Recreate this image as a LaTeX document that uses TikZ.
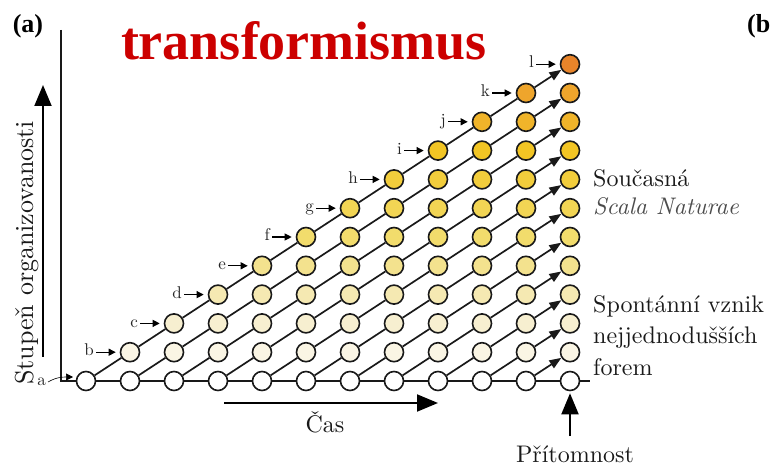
\documentclass[tikz,border=0pt]{standalone}
\usepackage{fontspec}
\setmainfont{lmroman10}[Extension=.otf,UprightFont=*-regular,ItalicFont=*-italic,BoldFont=*-bold]
\newfontfamily\titlefont{Liberation Serif}
\usetikzlibrary{arrows.meta,calc}
\definecolor{row0}{HTML}{FFFFFF}
\definecolor{row1}{HTML}{FAF5E4}
\definecolor{row2}{HTML}{F7EFD0}
\definecolor{row3}{HTML}{F5E9B2}
\definecolor{row4}{HTML}{F3E28E}
\definecolor{row5}{HTML}{F2DC6C}
\definecolor{row6}{HTML}{F2D554}
\definecolor{row7}{HTML}{F2CD3C}
\definecolor{row8}{HTML}{F2C524}
\definecolor{row9}{HTML}{F0B42A}
\definecolor{row10}{HTML}{EEA52C}
\definecolor{row11}{HTML}{E8842A}
\definecolor{titlered}{HTML}{CC0000}

\begin{document}
\begin{tikzpicture}[x=1pt,y=1pt,
  dot/.style={circle,draw=black!90,line width=1.6pt,minimum size=19pt,inner sep=0pt},
  link/.style={line width=1.7pt,draw=black!90},
  tip/.style={-{Triangle[length=12pt,width=9pt]}},
  ltr/.style={font=\fontsize{17}{17}\selectfont,inner sep=2pt,text height=7.5pt,text depth=0pt,text=black!85},
  ltrarrow/.style={-{Triangle[length=7pt,width=7pt]},line width=1.1pt,shorten >=4pt},
  bigarrow/.style={-{Triangle[length=21pt,width=17pt]},line width=1.9pt},
  txt/.style={font=\fontsize{24}{30}\selectfont,anchor=base west,inner sep=0pt,text=black!90},
  head/.style={font=\titlefont\bfseries\fontsize{26}{26}\selectfont,inner sep=0pt}]

\useasboundingbox (0,0) rectangle (774,469);

% stages: column = time step, row = level of organisation
\foreach \i in {0,...,11}
  \foreach \j in {0,...,\i}
    \node[dot,fill=row\j] (c-\i-\j) at ({86+44*\i},{88+28.8*\j}) {};

% lineages
\foreach \i in {0,...,10}{
  \pgfmathtruncatemacro\ni{\i+1}
  \foreach \j in {0,...,\i}{
    \pgfmathtruncatemacro\nj{\j+1}
    \ifnum\i=10
      \draw[link,tip] (c-\i-\j) -- (c-\ni-\nj);
    \else
      \draw[link] (c-\i-\j) -- (c-\ni-\nj);
    \fi
  }
  \draw[link] (c-\i-0) -- (c-\ni-0);
}

% axes
\coordinate (ytop) at (61,439);
\coordinate (corner) at (61,88);
\coordinate (xend) at (590,88);
\draw[link] (ytop) -- (corner) -- (c-0-0);
\draw[link] (c-11-0) -- (xend);

% first appearance of each form
\node[ltr,anchor=east] (t-0) at (48,87) {a};
\coordinate (atip) at (73,92);
\draw[ltrarrow,line width=0.6pt,shorten >=0pt] (t-0.east) to[out=30,in=180] (atip);
\foreach \i/\lbl in {1/b,2/c,3/d,4/e,5/f,6/g,7/h,8/i,9/j,10/k,11/l}{
  \node[ltr,anchor=east] (t-\i) at ($(c-\i-\i)+(-34,0)$) {\lbl};
  \draw[ltrarrow] (t-\i.east) -- (c-\i-\i.west);
}

% axis arrows
\coordinate (sb) at (43,112);
\coordinate (st) at (43,384);
\draw[bigarrow] (sb) -- (st);
\node[font=\fontsize{26}{26}\selectfont,rotate=90,anchor=base west,inner sep=0pt,text=black!90] (ylab) at (33,84) {Stupeň organizovanosti};
\coordinate (tb) at (224,66);
\coordinate (te) at (438,66);
\draw[bigarrow] (tb) -- (te);
\node[txt,anchor=base] (xlab) at (325,37) {Čas};
\coordinate (pb) at (570,33);
\draw[bigarrow,shorten >=2pt] (pb) -- (c-11-0);
\node[txt,anchor=base] (now) at (575,7) {Přítomnost};

% right-hand notes
\node[txt] (s1) at (593,282) {Současná};
\node[txt,font=\itshape\fontsize{24}{30}\selectfont,text=black!70] (s2) at (593,254) {Scala Naturae};
\node[txt] (g1) at (593,156) {Spontánní vznik};
\node[txt] (g2) at (593,125) {nejjednodušších};
\node[txt] (g3) at (593,94) {forem};

% headings
\node[head,anchor=base] (pa) at (28,436) {(a)};
\node[head,anchor=base west] (pb2) at (747,436) {(b};
\node[font=\titlefont\bfseries\fontsize{54}{54}\selectfont,text=titlered,anchor=base,inner sep=0pt] (title) at (304,409) {transformismus};
\end{tikzpicture}
\end{document}
